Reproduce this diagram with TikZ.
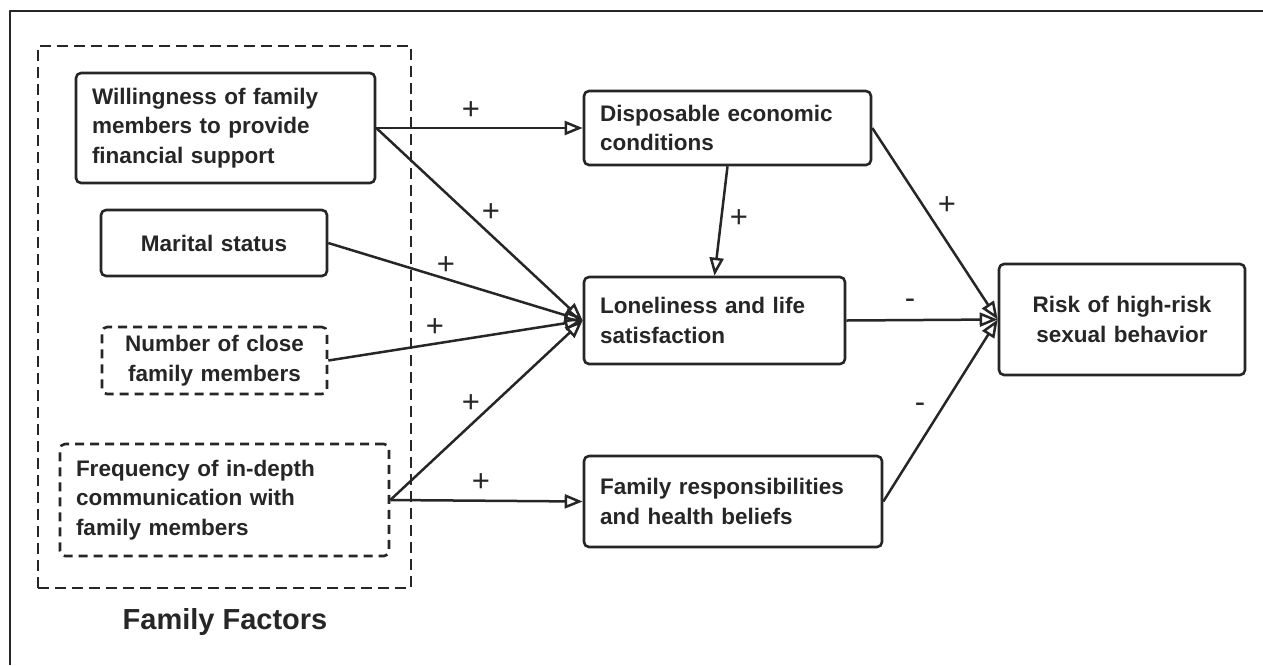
\documentclass[tikz,border=0pt]{standalone}
\usepackage{fontspec}
\setmainfont{Liberation Sans}
\usetikzlibrary{arrows.meta}
\definecolor{ink}{HTML}{262626}
\begin{document}
\begin{tikzpicture}[x=1pt,y=-1pt,line join=round,
  box/.style={draw=ink, line width=2.6pt, rounded corners=5pt, inner sep=0pt,
    font=\fontsize{22.5}{29.5}\selectfont\bfseries, text=ink},
  dbox/.style={box, dash pattern=on 9pt off 6pt},
  conn/.style={draw=ink, line width=2.5pt,
    -{Triangle[open, length=18pt, width=14pt, line width=2.5pt]}},
  sign/.style={font=\fontsize{31}{31}\selectfont, text=ink, inner sep=0pt}]
\useasboundingbox (0,0) rectangle (1263,665);
% partial outer frame
\draw[ink, line width=1.4pt] (10,665) -- (10,11) -- (1263,11);
% family factors group
\node[draw=ink, line width=2.6pt, dash pattern=on 11pt off 6pt, minimum width=373pt,
  minimum height=542pt, inner sep=0pt] (G0) at (224.5,317) {};
\node[font=\fontsize{29}{29}\selectfont\bfseries, text=ink] (FF) at (225,622) {Family Factors};
% left nodes
\node[box, minimum width=299pt, minimum height=110pt, text width=267pt, align=left]
  (A) at (225.5,128) {Willingness of family\\members to provide\\financial support};
\node[box, minimum width=226pt, minimum height=66pt, text width=210pt, align=center]
  (B) at (214,243) {Marital status};
\node[dbox, minimum width=225pt, minimum height=67pt, text width=210pt, align=center]
  (C) at (214.5,360.5) {Number of close\\family members};
\node[dbox, minimum width=329pt, minimum height=112pt, text width=297pt, align=left]
  (D) at (224.5,500) {Frequency of in-depth\\communication with\\family members};
% middle nodes
\node[box, minimum width=287pt, minimum height=74pt, text width=255pt, align=left]
  (E) at (727.5,128) {Disposable economic\\conditions};
\node[box, minimum width=261pt, minimum height=87pt, text width=229pt, align=left]
  (F) at (714.5,320.5) {Loneliness and life\\satisfaction};
\node[box, minimum width=298pt, minimum height=91pt, text width=266pt, align=left]
  (G) at (733,501.5) {Family responsibilities\\and health beliefs};
% right node
\node[box, minimum width=246pt, minimum height=111pt, text width=234pt, align=center]
  (H) at (1122,319.5) {Risk of high-risk\\sexual behavior};
% connectors
\draw[conn] (A.east) -- (E.west);
\draw[conn] (A.east) -- (F.west);
\draw[conn] (B.east) -- (F.west);
\draw[conn] (C.east) -- (F.west);
\draw[conn] (D.east) -- (F.west);
\draw[conn] (D.east) -- (G.west);
\draw[conn] (E.south) -- (F.north);
\draw[conn] (E.east) -- (H.west);
\draw[conn] (F.east) -- (H.west);
\draw[conn] (G.east) -- (H.west);
% signs
\node[sign] (s1) at (471,111) {+};
\node[sign] (s2) at (491,213) {+};
\node[sign] (s3) at (446,266) {+};
\node[sign] (s4) at (435,328) {+};
\node[sign] (s5) at (471,404) {+};
\node[sign] (s6) at (481,483) {+};
\node[sign] (s7) at (739,219) {+};
\node[sign] (s8) at (947,206) {+};
\node[sign] (s9) at (910,304) {-};
\node[sign] (s10) at (920,408) {-};
\end{tikzpicture}
\end{document}
